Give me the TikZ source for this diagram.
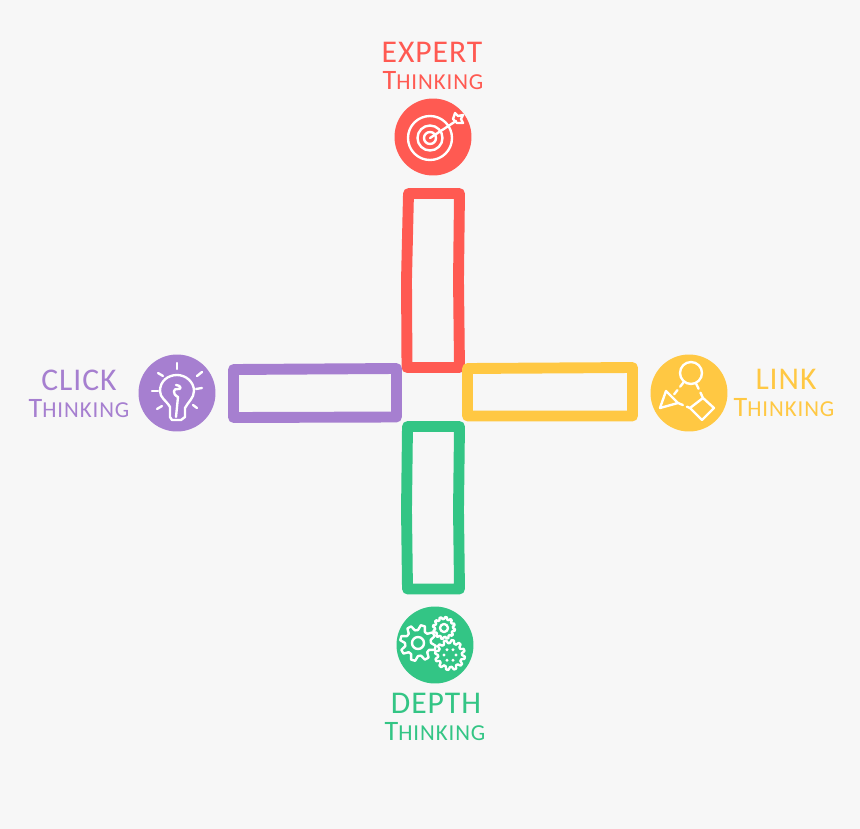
\documentclass[tikz,border=0pt]{standalone}
\usepackage{fontspec}
\newfontfamily\handfont[LetterSpace=3]{Carlito}
\newfontfamily\lowfont[LetterSpace=4]{Carlito}
\definecolor{PAGEcolor}{HTML}{f7f7f7}
\definecolor{EXPERTcolor}{HTML}{ff5a52}
\definecolor{CLICKcolor}{HTML}{a67fd0}
\definecolor{LINKcolor}{HTML}{ffc843}
\definecolor{DEPTHcolor}{HTML}{33c585}
\newcommand{\headword}[1]{{\handfont\fontsize{18pt}{18pt}\selectfont #1}}
\newcommand{\thinkword}{{\lowfont\fontsize{16pt}{18pt}\selectfont T\fontsize{13pt}{18pt}\selectfont HINKING}}

\begin{document}
\begin{tikzpicture}[x=0.02cm, y=-0.02cm]
    \tikzset{%
        bar/.style={line width=6.2pt, line join=round},
        badge/.style={circle, fill=#1, minimum size=1.54cm, inner sep=0pt},
        iconline/.style={white, line width=1.35pt, line cap=round, line join=round},
        headlabel/.style={text=#1, inner sep=0pt},
        pics/cog/.style args={#1/#2/#3}{code={%
                        % outer radius/inner radius/number of teeth
                        \foreach \i in {1, ..., #3} {%
                                \pgfmathsetmacro{\stepa}{360/#3}
                                \pgfmathsetmacro{\anga}{\i*\stepa}
                                \draw [iconline] (\anga:#2) -- (\anga+0.2*\stepa:#1) -- (\anga+0.5*\stepa:#1) -- (\anga+0.7*\stepa:#2) -- (\anga+\stepa:#2);
                            };
                    }
            }
    }

    \fill [PAGEcolor] (0, 0) rectangle (860, 829);
    \useasboundingbox (0, 0) rectangle (860, 829);

    % bars
    \draw [bar, EXPERTcolor] (408.5, 193.5) -- (459.5, 193.5) -- (458.5, 280) -- (459.5, 367.5) -- (407, 367.5) -- (406.5, 280) -- cycle;
    \draw [bar, CLICKcolor] (233.5, 369.5) -- (396.5, 368.5) -- (396.5, 417) -- (233.5, 417.5) -- cycle;
    \draw [bar, LINKcolor] (467.5, 368.5) -- (632.5, 367.5) -- (632.5, 416) -- (467.5, 416) -- cycle;
    \draw [bar, DEPTHcolor] (407.5, 426.5) -- (459.5, 426.5) -- (458.5, 510) -- (459.5, 589) -- (407.5, 589) -- (406.5, 510) -- cycle;

    % badges
    \node (expert) [badge=EXPERTcolor] at (433, 137) {};
    \node (click) [badge=CLICKcolor] at (177, 393) {};
    \node (link) [badge=LINKcolor] at (689, 393) {};
    \node (depth) [badge=DEPTHcolor] at (435, 645) {};

    % labels
    \node (experttop) [headlabel=EXPERTcolor] at (432, 52) {\headword{EXPERT}};
    \node (expertlow) [headlabel=EXPERTcolor] at (433, 81) {\thinkword};
    \node (clicktop) [headlabel=CLICKcolor] at (79, 380) {\headword{CLICK}};
    \node (clicklow) [headlabel=CLICKcolor] at (79, 409) {\thinkword};
    \node (linktop) [headlabel=LINKcolor] at (786, 379) {\headword{LINK}};
    \node (linklow) [headlabel=LINKcolor] at (784, 408) {\thinkword};
    \node (depthtop) [headlabel=DEPTHcolor] at (436, 703) {\headword{DEPTH}};
    \node (depthlow) [headlabel=DEPTHcolor] at (435, 732) {\thinkword};

    % target
    \draw [iconline] (430, 138) circle (22);
    \draw [iconline] (430, 138) circle (12.5);
    \draw [iconline] (430, 138) circle (6);
    \draw [iconline] (430, 138) -- (456, 121);
    \draw [iconline] (453, 119) -- (455, 113) -- (458, 116) -- (463, 115) -- (461, 119) -- (463, 123) -- (457, 123) -- cycle;

    % bulb
    \draw [iconline] (170, 417) -- (170, 407) .. controls (166, 400) and (160, 398) .. (160, 391) .. controls (160, 381) and (168, 375) .. (177, 375) .. controls (186, 375) and (194, 382) .. (194, 391) .. controls (194, 398) and (188, 402) .. (185, 408) -- (185, 417) -- (181, 420) -- (172, 420) -- cycle;
    \draw [iconline] (176, 417) -- (178, 397) .. controls (172, 394) and (173, 388) .. (178, 389) .. controls (182, 390) and (181, 385) .. (176, 385);
    \foreach \xa/\ya/\xb/\yb in {177/363/177/369, 158/373/163/376, 197/376/202/372, 152/391/158/391, 196/389/202/388, 157/409/162/406, 193/405/197/408} {%
            \draw [iconline] (\xa, \ya) -- (\xb, \yb);
        };

    % graph
    \node (ring) [draw=white, circle, line width=1.35pt, minimum size=0.44cm, inner sep=0pt] at (691, 373) {};
    \coordinate (tria) at (666, 391);
    \coordinate (trib) at (660, 408);
    \coordinate (tric) at (678, 403);
    \coordinate (dia) at (690, 408);
    \coordinate (dib) at (703, 398);
    \coordinate (dic) at (714, 408);
    \coordinate (did) at (702, 420);
    \draw [iconline] (tria) -- (trib) -- (tric) -- cycle;
    \draw [iconline] (dia) -- (dib) -- (dic) -- (did) -- cycle;
    \draw [iconline, dash pattern=on 3pt off 2.5pt] (ring) -- (672, 397);
    \draw [iconline, dash pattern=on 3pt off 2.5pt] (ring) -- (dib);
    \draw [iconline, dash pattern=on 3pt off 2.5pt] (tric) -- (dia);

    % gears
    \pic at (418, 643) {cog=18/13/8};
    \draw [iconline] (418, 643) circle (6);
    \pic at (444, 628) {cog=11/9/12};
    \draw [iconline] (444, 628) circle (4);
    \pic at (450, 655) {cog=15/12/12};
    \foreach \i in {0, 60, ..., 300} {%
            \fill [white] (450, 655) ++(\i:6) circle (1.6);
        };
\end{tikzpicture}
\end{document}
